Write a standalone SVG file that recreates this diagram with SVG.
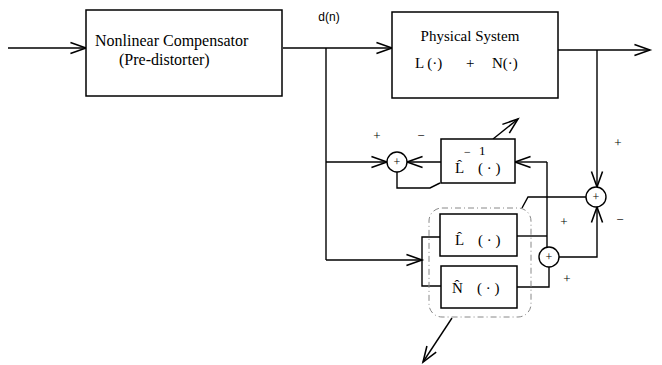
<svg xmlns="http://www.w3.org/2000/svg" width="662" height="365" viewBox="0 0 662 365">
<defs>
<marker id="ah" markerUnits="userSpaceOnUse" markerWidth="20" markerHeight="20" refX="0" refY="0" viewBox="-16 -8 18 16" orient="auto" overflow="visible">
<path d="M-14,-5 L0,0 L-14,5" fill="none" stroke="#000" stroke-width="1.4"/>
</marker>
</defs>
<style>
.box{fill:#fff;stroke:#000;stroke-width:1.5}
.sum{fill:#fff;stroke:#000;stroke-width:1.4}
.ln{fill:none;stroke:#000;stroke-width:1.4}
.arr{fill:none;stroke:#000;stroke-width:1.4;marker-end:url(#ah)}
.t{font-family:"Liberation Serif","Times New Roman",serif;fill:#000}
.s{font-family:"Liberation Sans",Arial,sans-serif;fill:#000}
.grp{fill:none;stroke:#888;stroke-width:1;stroke-dasharray:6 3 1 3}
</style>
<g id="connectors">
<path class="arr" d="M8,48 H86"/>
<path class="arr" d="M283,48 H392"/>
<path class="ln" d="M326,48 V260"/>
<path class="arr" d="M326,162 H387"/>
<path class="arr" d="M441,162 H407"/>
<path class="ln" d="M397,172 V188 H430 L440,183"/>
<path class="arr" d="M493,139 L518,119"/>
<path class="arr" d="M558,50 H650"/>
<path class="arr" d="M597,50 V187"/>
<path class="arr" d="M326,260 H422"/>
<path class="ln" d="M440,237 H422 V286 H441"/>
<path class="ln" d="M517,236 H547"/>
<path class="ln" d="M547,162 V247"/>
<path class="arr" d="M547,162 H515"/>
<path class="ln" d="M517,287 H549 V267"/>
<path class="arr" d="M559,257 H597 V207"/>
<path class="ln" d="M586,197 H528 L522,208"/>
<path class="arr" d="M452,318 L423,362"/>
</g>
<g id="adaptive-group">
<rect class="grp" x="429" y="208" width="102" height="109" rx="13"/>
</g>
<g id="compensator">
<rect class="box" x="86" y="10" width="196" height="86"/>
<text class="t" x="95" y="46" font-size="16">Nonlinear Compensator</text>
<text class="t" x="119" y="65" font-size="16">(Pre-distorter)</text>
</g>
<g id="dn-label">
<text class="s" x="329" y="21" font-size="12" text-anchor="middle">d(n)</text>
</g>
<g id="physical">
<rect class="box" x="392" y="12" width="166" height="86"/>
<text class="t" x="470" y="41" font-size="15" text-anchor="middle">Physical  System</text>
<text class="t" x="415" y="68" font-size="15">L (·)</text>
<text class="t" x="466" y="68" font-size="15">+</text>
<text class="t" x="492" y="68" font-size="15">N(·)</text>
</g>
<g id="linv">
<rect class="box" x="441" y="139" width="74" height="44"/>
<text class="t" x="464" y="156" font-size="12">−</text>
<text class="t" x="479" y="155" font-size="13">1</text>
<text class="t" x="455" y="173" font-size="15">L̂</text>
<text class="t" x="478" y="173" font-size="15">( · )</text>
</g>
<g id="lhat">
<rect class="box" x="440" y="214" width="77" height="42"/>
<text class="t" x="455" y="245" font-size="15">L̂</text>
<text class="t" x="478" y="245" font-size="15">( · )</text>
</g>
<g id="nhat">
<rect class="box" x="441" y="266" width="76" height="42"/>
<text class="t" x="452" y="293" font-size="15">N̂</text>
<text class="t" x="477" y="293" font-size="15">( · )</text>
</g>
<g id="sum1">
<circle class="sum" cx="397" cy="162" r="10"/>
<text class="t" x="397" y="166" font-size="12" text-anchor="middle">+</text>
</g>
<g id="sum2">
<circle class="sum" cx="549" cy="257" r="10"/>
<text class="t" x="549" y="261" font-size="12" text-anchor="middle">+</text>
</g>
<g id="sum3">
<circle class="sum" cx="596" cy="197" r="10"/>
<text class="t" x="596" y="201" font-size="12" text-anchor="middle">+</text>
</g>
<g id="signs">
<text class="t" x="377" y="140" font-size="13" text-anchor="middle">+</text>
<text class="t" x="421" y="140" font-size="13" text-anchor="middle">−</text>
<text class="t" x="618" y="147" font-size="13" text-anchor="middle">+</text>
<text class="t" x="620" y="224" font-size="13" text-anchor="middle">−</text>
<text class="t" x="564" y="226" font-size="13" text-anchor="middle">+</text>
<text class="t" x="567" y="283" font-size="13" text-anchor="middle">+</text>
</g>
</svg>
